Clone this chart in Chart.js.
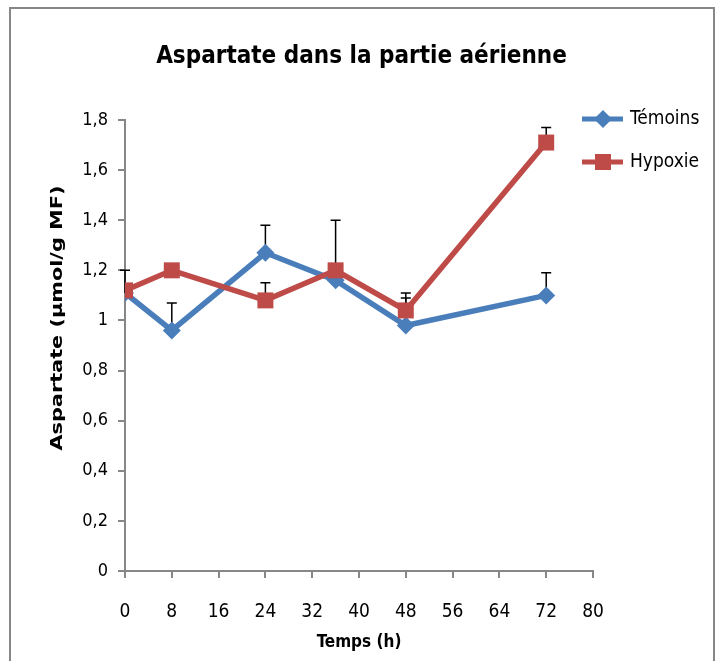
<!DOCTYPE html>
<html>
<head>
<meta charset="utf-8">
<script src="https://cdn.jsdelivr.net/npm/chart.js@4.4.1/dist/chart.umd.min.js"></script>
<style>
  body { margin: 0; background: #fff; }
  #wrap { width: 723px; height: 661px; position: relative; }
</style>
</head>
<body>
<div id="wrap"><canvas id="aspChart"></canvas></div>
<script>
// temps en heures
var heures = [0, 8, 24, 36, 48, 72];
var temoins = [1.11, 0.96, 1.27, 1.16, 0.98, 1.10];
var hypoxie = [1.12, 1.20, 1.08, 1.20, 1.04, 1.71];
// ecart (barre d'erreur vers le haut)
var errTemoins = [0.09, 0.11, 0.11, 0, 0.11, 0.09];
var errHypoxie = [0, 0, 0.07, 0.20, 0.07, 0.06];
var xTicks = [0, 8, 16, 24, 32, 40, 48, 56, 64, 72, 80];
var yTicks = [0, 0.2, 0.4, 0.6, 0.8, 1, 1.2, 1.4, 1.6, 1.8];

var bleu = '#4a7ebb';
var rouge = '#be4b48';
var gris = '#878787';
var narrow = "'Liberation Sans Narrow', 'DejaVu Sans Condensed', sans-serif";

function toPoints(vals) {
    return heures.map(function(h, i) { return {x: h, y: vals[i]}; });
}

var errorBars = {
    id: 'errorBars',
    beforeDatasetsDraw: function(chart) {
        var ctx = chart.ctx;
        var y = chart.scales.y;
        ctx.save();
        ctx.strokeStyle = '#000';
        ctx.lineWidth = 1.5;
        chart.data.datasets.forEach(function(ds, di) {
            var meta = chart.getDatasetMeta(di);
            meta.data.forEach(function(pt, i) {
                var e = ds.errors[i];
                if (!e) return;
                var top = y.getPixelForValue(ds.data[i].y + e);
                ctx.beginPath();
                ctx.moveTo(pt.x, pt.y);
                ctx.lineTo(pt.x, top);
                ctx.moveTo(pt.x - 5, top);
                ctx.lineTo(pt.x + 5, top);
                ctx.stroke();
            });
        });
        ctx.restore();
    }
};

var decor = {
    id: 'decor',
    afterDraw: function(chart) {
        var ctx = chart.ctx;
        ctx.save();
        // cadre
        ctx.strokeStyle = gris;
        ctx.lineWidth = 2;
        ctx.beginPath();
        ctx.moveTo(10, 700);
        ctx.lineTo(10, 8);
        ctx.lineTo(714, 8);
        ctx.lineTo(714, 700);
        ctx.stroke();

        // titre axe y
        var txt = 'Aspartate (µmol/g MF)';
        ctx.fillStyle = '#000';
        ctx.font = "bold 16px 'DejaVu Sans', sans-serif";
        ctx.textAlign = 'center';
        ctx.textBaseline = 'middle';
        ctx.translate(58, 318);
        ctx.rotate(-Math.PI / 2);
        ctx.scale(265 / ctx.measureText(txt).width, 1);
        ctx.fillText(txt, 0, 0);
        ctx.restore();

        // legende
        ctx.save();
        chart.data.datasets.forEach(function(ds, i) {
            var ly = 119 + i * 43;
            ctx.strokeStyle = ds.borderColor;
            ctx.lineWidth = 5;
            ctx.beginPath();
            ctx.moveTo(582, ly);
            ctx.lineTo(623, ly);
            ctx.stroke();
            ctx.fillStyle = ds.backgroundColor;
            ctx.beginPath();
            if (ds.pointStyle === 'rectRot') {
                ctx.moveTo(603, ly - 9);
                ctx.lineTo(612, ly);
                ctx.lineTo(603, ly + 9);
                ctx.lineTo(594, ly);
                ctx.closePath();
            } else {
                ctx.rect(595, ly - 8, 16, 16);
            }
            ctx.fill();
            ctx.fillStyle = '#000';
            ctx.font = '19px ' + narrow;
            ctx.textAlign = 'left';
            ctx.textBaseline = 'middle';
            ctx.fillText(ds.label, 630, ly);
        });
        ctx.restore();
    }
};

var context = document.getElementById('aspChart').getContext('2d');
var myChart = new Chart(context, {
    type: 'line',
    data: {
        datasets: [{
            label: 'Témoins',
            data: toPoints(temoins),
            errors: errTemoins,
            borderColor: bleu,
            backgroundColor: bleu,
            borderWidth: 5.5,
            pointStyle: 'rectRot',
            pointRadius: 9,
            pointBorderWidth: 0,
            order: 1
        }, {
            label: 'Hypoxie',
            data: toPoints(hypoxie),
            errors: errHypoxie,
            borderColor: rouge,
            backgroundColor: rouge,
            borderWidth: 5.5,
            pointStyle: 'rect',
            pointRadius: 11.3,
            pointBorderWidth: 0,
            order: 0
        }]
    },
    options: {
        responsive: true,
        maintainAspectRatio: false,
        animation: false,
        layout: { padding: 0 },
        plugins: {
            legend: { display: false },
            tooltip: { enabled: false },
            title: {
                display: true,
                text: 'Aspartate dans la partie aérienne',
                color: '#000',
                font: { family: narrow, size: 24, weight: 'bold' },
                padding: { top: 42, bottom: 49.2 }
            }
        },
        scales: {
            x: {
                type: 'linear',
                min: 0,
                max: 80,
                afterBuildTicks: function(scale) {
                    scale.ticks = xTicks.map(function(v) { return {value: v}; });
                },
                afterFit: function(scale) { scale.height = 90; },
                grid: { drawOnChartArea: false, tickLength: 7, color: gris, lineWidth: 2 },
                border: { color: gris, width: 2 },
                ticks: { color: '#000', font: { family: narrow, size: 19 }, padding: 23 },
                title: {
                    display: true,
                    text: 'Temps (h)',
                    color: '#000',
                    font: { family: narrow, size: 17, weight: 'bold' },
                    padding: { top: 0, bottom: 8 }
                }
            },
            y: {
                min: 0,
                max: 1.8,
                afterBuildTicks: function(scale) {
                    scale.ticks = yTicks.map(function(v) { return {value: v}; });
                },
                afterFit: function(scale) { scale.width = 125; },
                grid: { drawOnChartArea: false, tickLength: 7, color: gris, lineWidth: 2 },
                border: { color: gris, width: 2 },
                ticks: {
                    color: '#000',
                    font: { family: narrow, size: 18 },
                    padding: 10,
                    callback: function(v) { return String(v).replace('.', ','); }
                }
            },
            // espace reserve pour la legende a droite
            legendSpace: {
                position: 'right',
                afterFit: function(scale) { scale.width = 130; },
                grid: { display: false },
                border: { display: false },
                ticks: { display: false }
            }
        }
    },
    plugins: [errorBars, decor]
});
</script>
</body>
</html>
